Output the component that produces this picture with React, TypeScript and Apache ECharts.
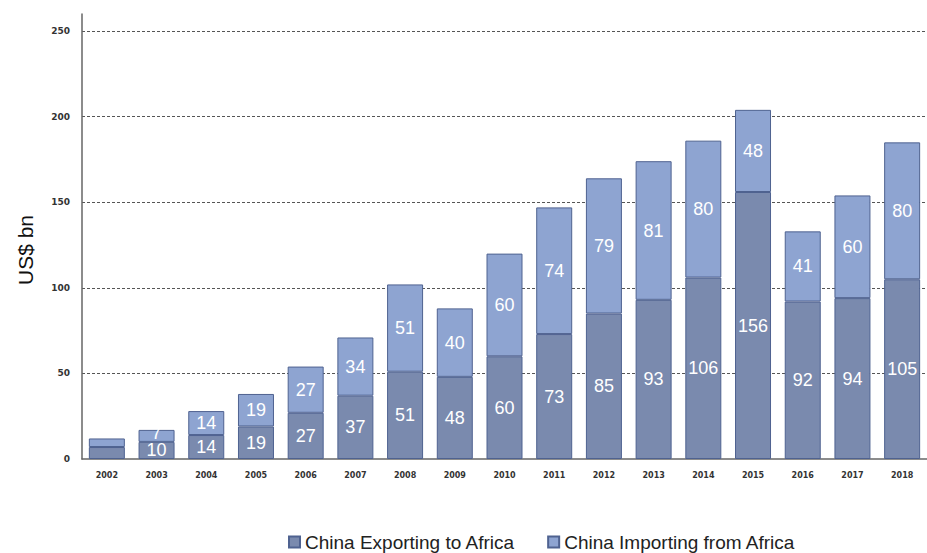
import React, { useEffect, useRef } from "react";
import * as echarts from "echarts";

const years = ["2002", "2003", "2004", "2005", "2006", "2007", "2008", "2009", "2010", "2011", "2012", "2013", "2014", "2015", "2016", "2017", "2018"];
const exportsToAfrica = [7, 10, 14, 19, 27, 37, 51, 48, 60, 73, 85, 93, 106, 156, 92, 94, 105];
const importsFromAfrica = [5, 7, 14, 19, 27, 34, 51, 40, 60, 74, 79, 81, 80, 48, 41, 60, 80];
const yTicks = [0, 50, 100, 150, 200, 250];
const hiddenLabelYears = ["2002"];
const yAxisTitle = "US$ bn";

export default function App() {
  const ref = useRef<HTMLDivElement>(null);
  useEffect(() => {
    if (!ref.current) return;
    const chart = echarts.init(ref.current, null, { renderer: "svg" });
    const mk = (arr: number[], smallOffset: number[]) =>
      arr.map((v, i) => ({
        value: v,
        label: {
          show: !hiddenLabelYears.includes(years[i]),
          offset: v < 10 ? smallOffset : [0, 0],
        },
      }));
    const labelStyle = {
      show: true,
      position: "inside" as const,
      color: "#ffffff",
      fontSize: 18,
      fontFamily: "Liberation Sans, Arial, sans-serif",
    };
    chart.setOption({
      animation: false,
      grid: { left: 82, right: -10, top: 14, bottom: 94, containLabel: false },
      graphic: [
        {
          type: "text",
          x: 25,
          y: 250,
          rotation: Math.PI / 2,
          style: {
            text: yAxisTitle,
            fontSize: 21,
            fill: "#111",
            fontFamily: "Liberation Sans, Arial, sans-serif",
            align: "center",
            verticalAlign: "middle",
          },
        },
      ],
      legend: {
        top: 527,
        left: 283,
        itemWidth: 11,
        itemHeight: 11,
        itemGap: 32,
        icon: "rect",
        textStyle: { fontSize: 19, color: "#222", fontFamily: "Liberation Sans, Arial, sans-serif", lineHeight: 20 },
        data: ["China Exporting to Africa", "China Importing from Africa"],
      },
      xAxis: {
        type: "category",
        data: years,
        axisLine: { lineStyle: { color: "#666", width: 1.5 } },
        axisTick: { show: false },
        axisLabel: {
          fontSize: 8,
          fontWeight: "bold",
          color: "#333",
          margin: 12,
          fontFamily: "DejaVu Sans, sans-serif",
        },
      },
      yAxis: {
        type: "value",
        min: 0,
        max: 260,
        interval: 50,
        axisLine: { show: true, lineStyle: { color: "#666", width: 1.5 } },
        axisTick: { show: false },
        axisLabel: {
          showMaxLabel: false,
          fontSize: 9,
          fontWeight: "bold",
          color: "#333",
          margin: 12,
          fontFamily: "DejaVu Sans, sans-serif",
          formatter: (v: number) => (yTicks.includes(v) ? String(v) : ""),
        },
        splitLine: {
          show: true,
          showMinLine: false,
          showMaxLine: false,
          lineStyle: { color: "#555", type: [3, 2], width: 1 },
        },
      },
      series: [
        {
          name: "China Exporting to Africa",
          type: "bar",
          stack: "total",
          barWidth: 36,
          data: mk(exportsToAfrica, [0, 2]),
          itemStyle: { color: "#7a8aae", borderColor: "#4f6290", borderWidth: 1 },
          label: labelStyle,
        },
        {
          name: "China Importing from Africa",
          type: "bar",
          stack: "total",
          barWidth: 36,
          data: mk(importsFromAfrica, [0, -3]),
          itemStyle: { color: "#8ea4d1", borderColor: "#4f6290", borderWidth: 1 },
          label: labelStyle,
        },
      ],
    });
    return () => chart.dispose();
  }, []);
  return <div ref={ref} style={{ width: 927, height: 553, position: "absolute", left: 0, top: 0 }} />;
}
